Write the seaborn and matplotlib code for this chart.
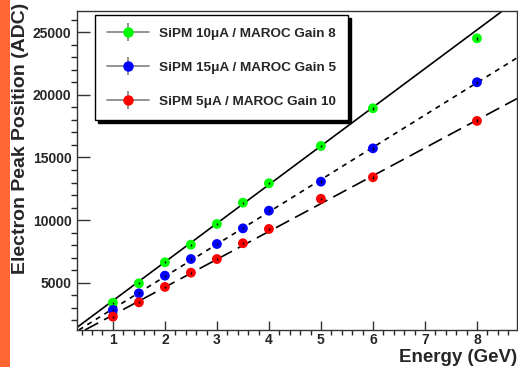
import matplotlib
matplotlib.use("Agg")
import matplotlib.pyplot as plt
import seaborn as sns
import pandas as pd
import numpy as np
from matplotlib.lines import Line2D
from matplotlib.patches import Rectangle
from matplotlib.legend_handler import HandlerTuple
from matplotlib.ticker import MultipleLocator

# ── data ──────────────────────────────────────────────────────────────────
energy = [1, 1.5, 2, 2.5, 3, 3.5, 4, 5, 6, 8]
peak_10uA = [3400, 4950, 6630, 8035, 9690, 11390, 12940, 15920, 18930, 24520]
peak_15uA = [2820, 4150, 5560, 6890, 8090, 9340, 10750, 13070, 15730, 21010]
peak_5uA = [2285, 3430, 4660, 5800, 6890, 8150, 9290, 11700, 13420, 17920]
peak_err = [80, 80, 80, 80, 90, 90, 90, 100, 110, 120]

series = ["SiPM 10\u03bcA / MAROC Gain 8",
          "SiPM 15\u03bcA / MAROC Gain 5",
          "SiPM 5\u03bcA / MAROC Gain 10"]
colors = ["#00ff00", "#0000ff", "#ff0000"]
fit_slope = [3090, 2580, 2225]
fit_intercept = [470, 330, 190]

df = pd.DataFrame({
    "Energy": energy * 3,
    "Peak": peak_10uA + peak_15uA + peak_5uA,
    "Err": peak_err * 3,
    "Series": [s for s in series for _ in energy],
})

# ── style ────────────────────────────────────────────────────────────────
sns.set_theme(style="ticks")
plt.rcParams["font.family"] = ["Liberation Sans", "DejaVu Sans"]
plt.rcParams["font.weight"] = "bold"

fig = plt.figure(figsize=(5.18, 3.67), dpi=100)
ax = fig.add_axes([77 / 518, 1 - 330 / 367, 440 / 518, 319 / 367])

# orange strip on the left edge
fig.patches.append(Rectangle((0, 0), 10 / 518, 1, transform=fig.transFigure,
                             facecolor="#ff6633", edgecolor="none", zorder=0))

# fit lines
dash_styles = ["-", (0, (3, 3)), (0, (9, 4))]
for m, b, ls in zip(fit_slope, fit_intercept, dash_styles):
    ax.axline((0, b), slope=m, color="black", lw=1.2, ls=ls, zorder=2)

sns.scatterplot(data=df, x="Energy", y="Peak", hue="Series", palette=colors,
                s=50, edgecolor="none", ax=ax, legend=False, zorder=3)
ax.errorbar(df["Energy"], df["Peak"], yerr=df["Err"], fmt="none",
            ecolor="black", elinewidth=1, zorder=4)

ax.set_xlim(0.31, 8.77)
ax.set_ylim(1220, 26700)
ax.xaxis.set_major_locator(MultipleLocator(1))
ax.xaxis.set_minor_locator(MultipleLocator(0.2))
ax.yaxis.set_major_locator(MultipleLocator(5000))
ax.yaxis.set_minor_locator(MultipleLocator(1000))
ax.set_xticks([1, 2, 3, 4, 5, 6, 7, 8])
ax.tick_params(axis="both", direction="in", labelsize=10, width=1, color="#333333")
ax.tick_params(axis="x", which="major", length=6.5, pad=2.5)
ax.tick_params(axis="x", which="minor", length=3.5)
ax.tick_params(axis="y", which="major", length=9.5, pad=4)
ax.tick_params(axis="y", which="minor", length=4.5)
for lbl in ax.get_xticklabels() + ax.get_yticklabels():
    lbl.set_fontweight("bold")
for sp in ax.spines.values():
    sp.set_color("#333333")
    sp.set_linewidth(1)
ax.set_xlabel("")
ax.set_ylabel("")

fig.text(517 / 518, 1 - 357 / 367, "Energy (GeV)", ha="right", va="center",
         fontsize=13.5, fontweight="bold")
fig.text(21 / 518, 1 - 3 / 367, "Electron Peak Position (ADC)", ha="center",
         va="top", rotation=90, fontsize=14, fontweight="bold")

# legend: marker with grey error cross, as in the reference
handles = []
for c in colors:
    h_line = Line2D([], [], color="#808080", lw=1.2)
    v_line = Line2D([], [], color="#808080", marker="|", markersize=13,
                    markeredgewidth=1.2, linestyle="none")
    dot = Line2D([], [], color=c, marker="o", markersize=6.5, linestyle="none")
    handles.append((h_line, v_line, dot))
leg = ax.legend(handles, series, handler_map={tuple: HandlerTuple(ndivide=1)},
                loc="upper left", bbox_to_anchor=(0.041, 0.987),
                prop={"size": 9.7, "weight": "bold"}, handlelength=3.1,
                handletextpad=0.75, labelspacing=1.62, borderpad=0.9,
                borderaxespad=0, fancybox=False, framealpha=1,
                shadow={"facecolor": "black", "edgecolor": "black", "alpha": 1})
leg.get_frame().set_edgecolor("black")
leg.get_frame().set_linewidth(1)

fig.savefig("out.png", dpi=100)
plt.close(fig)
